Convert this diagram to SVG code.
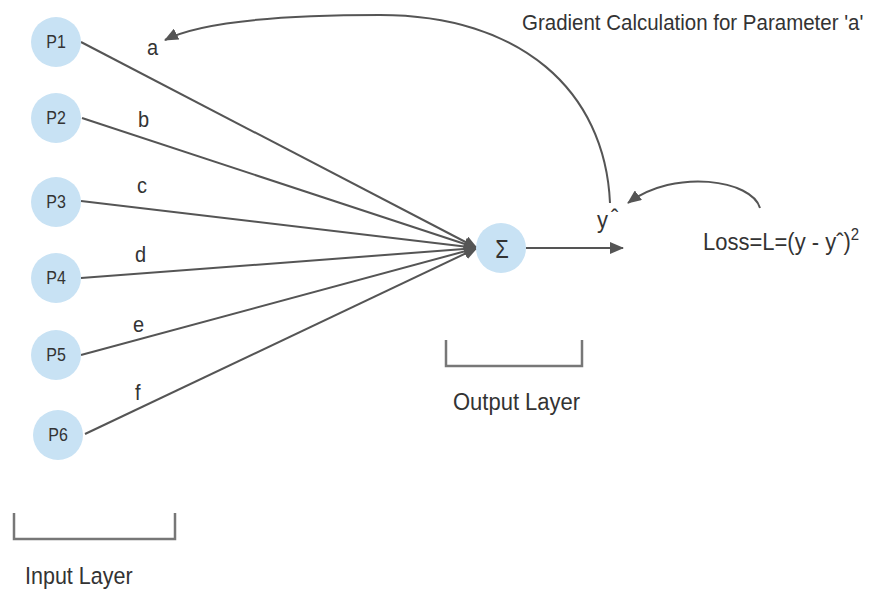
<svg xmlns="http://www.w3.org/2000/svg" width="871" height="589" viewBox="0 0 871 589">
<style>
.node{fill:#c8e2f4;}
.lbl{font-family:"Liberation Sans",Arial,sans-serif;fill:#333;}
.nl{font-size:16px;text-anchor:middle;}
.w{font-size:20px;}
.big{font-size:22px;}
.edge{stroke:#555;stroke-width:2;fill:none;}
.brk{stroke:#777;stroke-width:2.5;fill:none;}
</style>
<defs>
<marker id="ah" markerUnits="userSpaceOnUse" markerWidth="14" markerHeight="12" refX="13" refY="6" orient="auto">
<path d="M0,0 L14,6 L0,12 Z" fill="#555"/>
</marker>
</defs>
<rect width="871" height="589" fill="#fff"/>

<g id="edges">
<line class="edge" x1="81" y1="42" x2="477" y2="248" marker-end="url(#ah)"/>
<line class="edge" x1="82" y1="118" x2="477" y2="248" marker-end="url(#ah)"/>
<line class="edge" x1="81" y1="201" x2="477" y2="248" marker-end="url(#ah)"/>
<line class="edge" x1="81" y1="278" x2="477" y2="248" marker-end="url(#ah)"/>
<line class="edge" x1="81" y1="355" x2="477" y2="248" marker-end="url(#ah)"/>
<line class="edge" x1="85" y1="434" x2="477" y2="248" marker-end="url(#ah)"/>
<line class="edge" x1="526" y1="248" x2="623" y2="248" marker-end="url(#ah)"/>
<path class="edge" d="M610,203 C605,90 520,15 380,15 C280,15 200,22 165,40" marker-end="url(#ah)"/>
<path class="edge" d="M760,208 C752,180 675,168 628,203" marker-end="url(#ah)"/>
</g>

<g id="P1"><circle class="node" cx="56" cy="42" r="25"/><g transform="translate(56,48) scale(1,1.12)"><text class="lbl nl">P1</text></g></g>
<g id="P2"><circle class="node" cx="56" cy="118" r="25"/><g transform="translate(56,124) scale(1,1.12)"><text class="lbl nl">P2</text></g></g>
<g id="P3"><circle class="node" cx="56" cy="202" r="25"/><g transform="translate(56,208) scale(1,1.12)"><text class="lbl nl">P3</text></g></g>
<g id="P4"><circle class="node" cx="56" cy="278" r="25"/><g transform="translate(56,284) scale(1,1.12)"><text class="lbl nl">P4</text></g></g>
<g id="P5"><circle class="node" cx="56" cy="355" r="25"/><g transform="translate(56,361) scale(1,1.12)"><text class="lbl nl">P5</text></g></g>
<g id="P6"><circle class="node" cx="58" cy="435" r="25"/><g transform="translate(58,441) scale(1,1.12)"><text class="lbl nl">P6</text></g></g>
<g id="sum"><circle class="node" cx="501" cy="248" r="25"/><g transform="translate(502,258) scale(1,1.2)"><text class="lbl" font-size="22" text-anchor="middle">Σ</text></g></g>

<g id="weights">
<g transform="translate(147,55) scale(1,1.12)"><text class="lbl w">a</text></g>
<g transform="translate(138,127) scale(1,1.12)"><text class="lbl w">b</text></g>
<g transform="translate(137,193) scale(1,1.12)"><text class="lbl w">c</text></g>
<g transform="translate(135,262) scale(1,1.12)"><text class="lbl w">d</text></g>
<g transform="translate(133,332) scale(1,1.12)"><text class="lbl w">e</text></g>
<g transform="translate(135,400) scale(1,1.12)"><text class="lbl w">f</text></g>
</g>

<g id="yhat"><g transform="translate(597,228) scale(1,1.12)"><text class="lbl big">y<tspan dx="3" dy="-2">ˆ</tspan></text></g></g>
<g id="loss"><g transform="translate(703,250) scale(1,1.12)"><text class="lbl big">Loss=L=(y - yˆ)<tspan font-size="15" dy="-9">2</tspan></text></g></g>
<g id="title"><g transform="translate(522,30) scale(1,1.1)"><text class="lbl" font-size="20.5">Gradient Calculation for Parameter 'a'</text></g></g>

<g id="outputLayer">
<path class="brk" d="M446,340 V366 H582 V340"/>
<g transform="translate(453,410) scale(1,1.1)"><text class="lbl" font-size="22">Output Layer</text></g>
</g>
<g id="inputLayer">
<path class="brk" d="M14,513 V539 H175 V513"/>
<g transform="translate(25,584) scale(1,1.1)"><text class="lbl" font-size="21.5">Input Layer</text></g>
</g>
</svg>
